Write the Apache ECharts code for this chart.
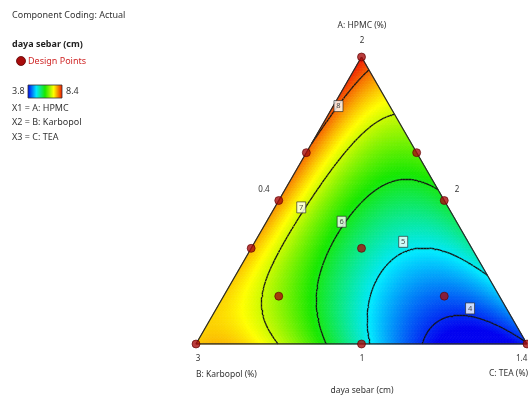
<!DOCTYPE html>
<html>
<head>
<meta charset="utf-8">
<script src="https://cdn.jsdelivr.net/npm/echarts@6/dist/echarts.min.js"></script>
<style>
  html, body { margin: 0; padding: 0; background: #fff; }
  #chart { width: 528px; height: 401px; }
</style>
</head>
<body>
<div id="chart"></div>
<script>
// readings taken off the plot: [A, C, daya sebar]  (B = 1 - A - C)
const spotReadings = [
  [1, 0, 8.35], [0, 0, 7.5], [0, 1, 3.95],
  [0.33, 0, 7.75], [0.5, 0, 7.85], [0.687, 0, 8.0], [0.83, 0, 8.12],
  [0.02, 0.82, 3.8], [1/3, 1/3, 5.6], [1/6, 1/6, 6.6]
];
// points on each drawn contour: [A, C]
const contour8 = [[0.949, 0.047], [0.891, 0.034], [0.829, 0.016], [0.687, 0.0]];
const contour7 = [[0.798, 0.201], [0.746, 0.142], [0.699, 0.115], [0.618, 0.105], [0.571, 0.103],
  [0.476, 0.080], [0.421, 0.063], [0.339, 0.064], [0.235, 0.088], [0.165, 0.116],
  [0.084, 0.167], [0.037, 0.215], [0, 0.256]];
const contour6 = [[0.531, 0.469], [0.569, 0.401], [0.581, 0.345], [0.566, 0.302], [0.513, 0.268],
  [0.449, 0.240], [0.426, 0.227], [0.339, 0.235], [0.246, 0.256], [0.165, 0.287],
  [0.084, 0.336], [0, 0.395]];
const contour5 = [[0.223, 0.777], [0.258, 0.719], [0.293, 0.651], [0.333, 0.560], [0.351, 0.491],
  [0.356, 0.448], [0.293, 0.429], [0.200, 0.435], [0.084, 0.479], [0, 0.526]];
const contour4 = [[0.008, 0.990], [0.060, 0.918], [0.095, 0.840], [0.124, 0.766], [0.113, 0.721],
  [0.095, 0.679], [0.060, 0.656], [0, 0.672]];
const levels = [4, 5, 6, 7, 8];

// design points [A, B, C]
const designPoints = [
  [1, 0, 0], [2/3, 1/3, 0], [1/2, 1/2, 0], [1/3, 2/3, 0], [0, 1, 0],
  [2/3, 0, 1/3], [1/2, 0, 1/2], [1/3, 1/3, 1/3], [1/6, 2/3, 1/6], [1/6, 1/6, 2/3],
  [0, 1/2, 1/2], [0, 0, 1]
];
// contour label boxes [A, C, text]
const contourLabels = [[0.829, 0.016, '8'], [0.476, 0.080, '7'], [0.426, 0.227, '6'],
  [0.356, 0.448, '5'], [0.124, 0.766, '4']];

const colorMin = 3.8, colorMax = 8.4;
const rampColors = ['#0000f0', '#00e8ff', '#18e800', '#ffff00', '#f01000'];
const H = Math.sqrt(3) / 2;

function toXY(a, c) { return [c + a / 2, a * H]; }

// quartic Scheffe model fitted to the readings
function terms(a, b, c) {
  return [a, b, c, a * b, a * c, b * c,
    a * b * (a - b), a * c * (a - c), b * c * (b - c),
    a * b * (a - b) * (a - b), a * c * (a - c) * (a - c), b * c * (b - c) * (b - c),
    a * a * b * c, a * b * b * c, a * b * c * c];
}
const obs = spotReadings.map(r => [r[0], r[1], r[2], 3]);
[[contour4, 4], [contour5, 5], [contour6, 6], [contour7, 7], [contour8, 8]].forEach(([pts, v]) => {
  pts.forEach(p => {
    const onEdge = p[0] < 0.01 || p[1] < 0.01 || p[0] + p[1] > 0.99;
    obs.push([p[0], p[1], v, onEdge ? 3 : 1]);
  });
});
const K = terms(0.3, 0.3, 0.4).length;
const XtX = Array.from({ length: K }, () => new Array(K).fill(0));
const Xty = new Array(K).fill(0);
obs.forEach(([a, c, v, w]) => {
  const t = terms(a, 1 - a - c, c);
  for (let i = 0; i < K; i++) {
    Xty[i] += w * t[i] * v;
    for (let j = 0; j < K; j++) XtX[i][j] += w * t[i] * t[j];
  }
});
for (let i = 3; i < K; i++) XtX[i][i] += 2e-4;
function solve(M, y) {
  const n = y.length, A = M.map((r, i) => r.concat([y[i]]));
  for (let i = 0; i < n; i++) {
    let p = i;
    for (let r = i + 1; r < n; r++) if (Math.abs(A[r][i]) > Math.abs(A[p][i])) p = r;
    [A[i], A[p]] = [A[p], A[i]];
    for (let r = 0; r < n; r++) {
      if (r === i) continue;
      const f = A[r][i] / A[i][i];
      for (let k = i; k <= n; k++) A[r][k] -= f * A[i][k];
    }
  }
  return A.map((r, i) => r[n] / r[i]);
}
const coef = solve(XtX, Xty);
function model(a, c) {
  const t = terms(a, 1 - a - c, c);
  return t.reduce((s, x, i) => s + x * coef[i], 0);
}

// triangular mesh over the simplex
const N = 110;
const cells = [];
const segs = [];
function node(i, j) { const a = i / N, c = j / N; return { xy: toXY(a, c), v: model(a, c) }; }
function addTri(p, q, r) {
  const v = (p.v + q.v + r.v) / 3;
  cells.push([p.xy[0], p.xy[1], q.xy[0], q.xy[1], r.xy[0], r.xy[1], v]);
  levels.forEach(L => {
    const pts = [];
    [[p, q], [q, r], [r, p]].forEach(([u, w]) => {
      if ((u.v - L) * (w.v - L) < 0) {
        const t = (L - u.v) / (w.v - u.v);
        pts.push([u.xy[0] + t * (w.xy[0] - u.xy[0]), u.xy[1] + t * (w.xy[1] - u.xy[1])]);
      }
    });
    if (pts.length === 2) segs.push({ coords: pts });
  });
}
for (let i = 0; i < N; i++) {
  for (let j = 0; i + j < N; j++) {
    const p = node(i, j), q = node(i + 1, j), r = node(i, j + 1);
    addTri(p, q, r);
    if (i + j + 2 <= N) addTri(q, node(i + 1, j + 1), r);
  }
}

const outline = [[1, 0], [0, 0], [0, 1], [1, 0]].map(p => toXY(p[0], p[1]));

const chart = echarts.init(document.getElementById('chart'));
const font = 'Noto Sans';
function txt(x, y, text, opt) {
  return {
    type: 'text', x, y, silent: true,
    style: Object.assign({ text, fontFamily: font, fontSize: 9, fill: '#333',
      textAlign: 'left', textVerticalAlign: 'middle', align: 'left', verticalAlign: 'middle' }, opt || {})
  };
}
function ctr(x, y, text, opt) {
  return txt(x, y, text, Object.assign({ textAlign: 'center', align: 'center' }, opt || {}));
}

chart.setOption({
  animation: false,
  grid: { left: 196, top: 57, width: 331, height: 287, show: false },
  xAxis: { type: 'value', min: 0, max: 1, show: false },
  yAxis: { type: 'value', min: 0, max: H, show: false },
  visualMap: {
    type: 'continuous',
    show: false,
    min: colorMin, max: colorMax,
    dimension: 6,
    seriesIndex: 0,
    inRange: { color: rampColors }
  },
  series: [
    {
      type: 'custom',
      coordinateSystem: 'cartesian2d',
      data: cells,
      clip: false,
      silent: true,
      progressive: 0,
      renderItem(params, api) {
        const p0 = api.coord([api.value(0), api.value(1)]);
        const p1 = api.coord([api.value(2), api.value(3)]);
        const p2 = api.coord([api.value(4), api.value(5)]);
        const col = api.visual('color');
        return { type: 'polygon', shape: { points: [p0, p1, p2] },
          style: { fill: col, stroke: col, lineWidth: 0.8 } };
      }
    },
    {
      type: 'lines',
      coordinateSystem: 'cartesian2d',
      data: segs,
      silent: true,
      lineStyle: { color: '#151515', width: 1.3, opacity: 1 },
      z: 3
    },
    {
      type: 'line',
      data: outline,
      symbol: 'none',
      silent: true,
      lineStyle: { color: '#2a2a2a', width: 1.3 },
      z: 4
    },
    {
      type: 'scatter',
      data: contourLabels.map(l => toXY(l[0], l[1]).concat([l[2]])),
      symbol: 'rect',
      symbolSize: [9, 11],
      silent: true,
      clip: false,
      itemStyle: { color: '#fff', borderColor: '#222', borderWidth: 0.8 },
      label: { show: true, position: 'inside', formatter: p => p.value[2], fontSize: 7.5, color: '#222', fontFamily: font },
      z: 5
    },
    {
      type: 'scatter',
      data: designPoints.map(d => toXY(d[0], d[2])),
      symbolSize: 8,
      silent: true,
      clip: false,
      itemStyle: { color: '#a80c0c', borderColor: '#5a0000', borderWidth: 0.8 },
      z: 6
    }
  ],
  graphic: [
    txt(12, 15, 'Component Coding: Actual'),
    txt(12, 44, 'daya sebar (cm)', { fontWeight: 'bold', fill: '#222' }),
    { type: 'circle', shape: { cx: 21, cy: 61, r: 4.5 }, style: { fill: '#a80c0c', stroke: '#5a0000', lineWidth: 0.8 }, silent: true },
    txt(28, 61, 'Design Points', { fill: '#d02828' }),
    txt(12, 91, String(colorMin)),
    {
      type: 'rect', shape: { x: 28, y: 85, width: 34, height: 13 }, silent: true,
      style: {
        stroke: '#333', lineWidth: 0.8,
        fill: new echarts.graphic.LinearGradient(0, 0, 1, 0,
          rampColors.map((c, i) => ({ offset: i / (rampColors.length - 1), color: c })))
      }
    },
    txt(66, 91, String(colorMax)),
    txt(12, 108, 'X1 = A: HPMC'),
    txt(12, 122, 'X2 = B: Karbopol'),
    txt(12, 137, 'X3 = C: TEA'),
    ctr(362, 26, 'A: HPMC (%)', { fontSize: 8.5 }),
    ctr(362, 41, '2', { fontSize: 8 }),
    ctr(264, 190, '0.4', { fontSize: 8 }),
    ctr(457, 190, '2', { fontSize: 8 }),
    ctr(437, 201, '2', { fontSize: 8 }),
    ctr(353, 249, '4', { fontSize: 8 }),
    ctr(362, 336, '2', { fontSize: 8 }),
    ctr(198, 359, '3', { fontSize: 8 }),
    ctr(362, 359, '1', { fontSize: 8 }),
    txt(516, 359, '1.4', { fontSize: 8 }),
    txt(196, 375, 'B: Karbopol (%)', { fontSize: 8.5 }),
    txt(528, 374, 'C: TEA (%)', { fontSize: 8.5, textAlign: 'right', align: 'right' }),
    ctr(362, 391, 'daya sebar (cm)', { fontSize: 8.5 })
  ]
});
</script>
</body>
</html>
